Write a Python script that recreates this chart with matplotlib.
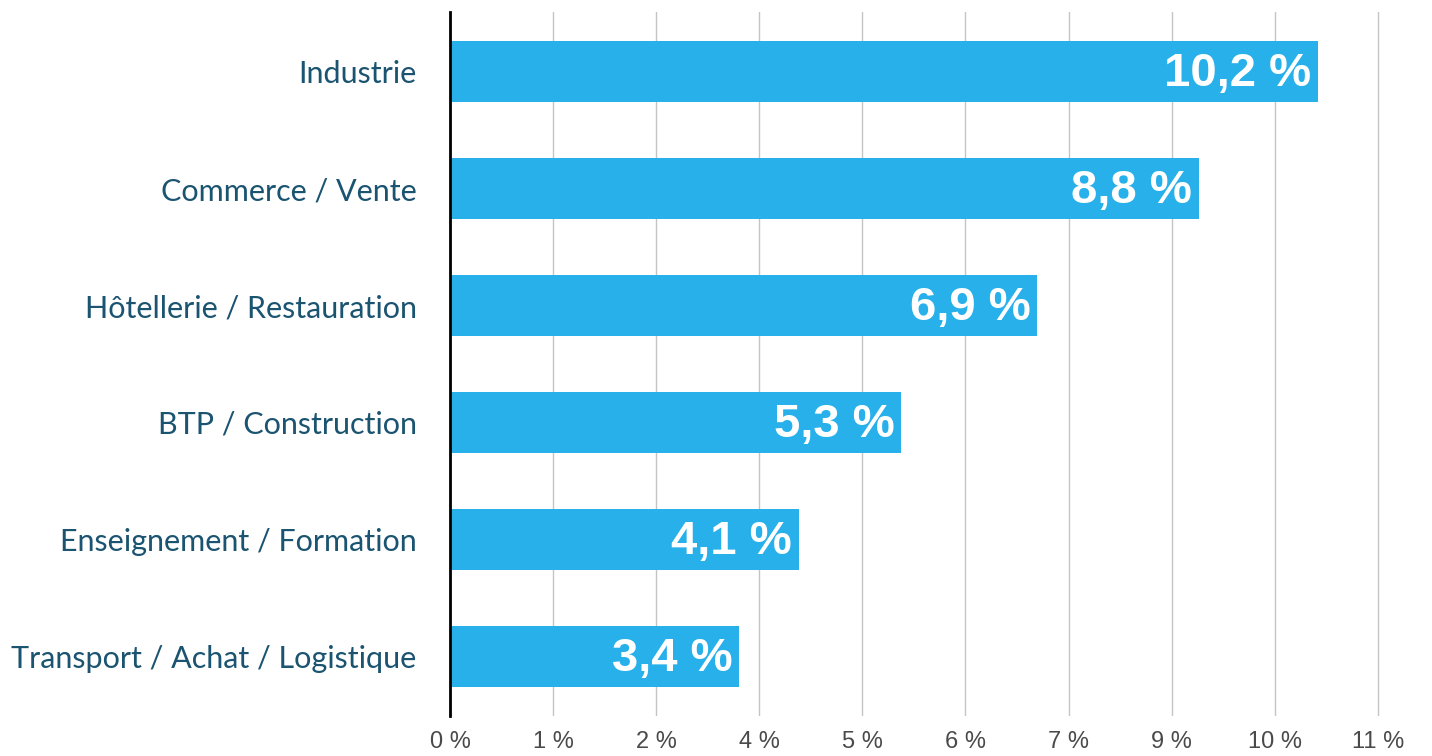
import numpy as np
from matplotlib import pyplot as plt

# data
categories = ["Industrie", "Commerce / Vente", "Hôtellerie / Restauration",
              "BTP / Construction", "Enseignement / Formation",
              "Transport / Achat / Logistique"]
values = [10.2, 8.8, 6.9, 5.3, 4.1, 3.4]
value_labels = ["10,2 %", "8,8 %", "6,9 %", "5,3 %", "4,1 %", "3,4 %"]
tick_labels = ["0 %", "1 %", "2 %", "4 %", "5 %", "6 %", "7 %", "9 %", "10 %", "11 %"]

bar_color = "#27b0ea"
cat_color = "#1b5470"

fig = plt.figure(figsize=(14.32, 7.56), dpi=100)
ax = fig.add_axes([450 / 1432, 1 - 716 / 756, (1380 - 450) / 1432, (716 - 12) / 756])

y = np.arange(len(categories))
ax.barh(y, values, height=0.52, color=bar_color, zorder=2)

for yi, v, lab in zip(y, values, value_labels):
    ax.text(v - 0.08, yi + 0.02, lab, ha="right", va="center", color="white",
            fontsize=34, fontweight="bold", family="Liberation Sans", zorder=3)

xmax = 10.9
ax.set_xlim(0, xmax + 0.025)
ax.set_ylim(len(categories) - 0.5 + 0.01, -0.51)

ax.set_xticks(np.linspace(0, xmax, len(tick_labels)))
ax.set_xticklabels(tick_labels)
ax.tick_params(axis="x", length=0, pad=11, labelsize=17, labelcolor="#4a4a4a")
for t in ax.get_xticklabels():
    t.set_family("Liberation Sans")

ax.set_yticks(y)
ax.set_yticklabels(categories)
ax.tick_params(axis="y", length=0, pad=24, labelsize=22, labelcolor=cat_color)
for t in ax.get_yticklabels():
    t.set_family("Lato")

ax.xaxis.grid(True, color="#c4c4c4", linewidth=1, zorder=0)
ax.set_axisbelow(True)
for s in ["top", "right", "bottom"]:
    ax.spines[s].set_visible(False)
ax.spines["left"].set_linewidth(2)
ax.spines["left"].set_color("black")
ax.spines["left"].set_zorder(4)

fig.savefig("out.png", dpi=100)
